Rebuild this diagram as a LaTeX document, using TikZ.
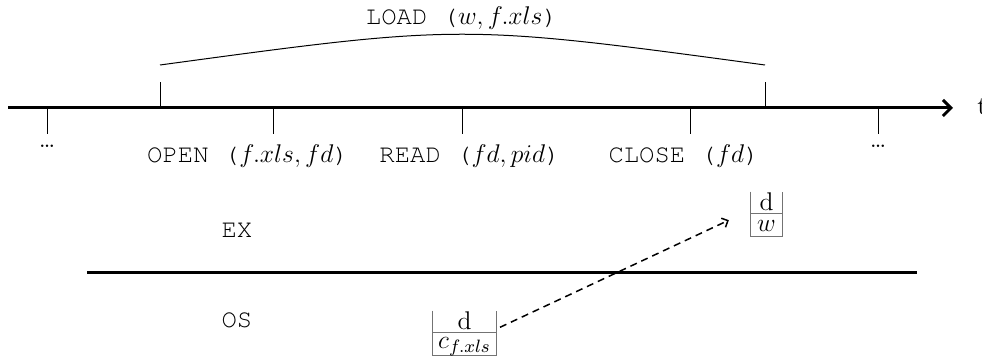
\documentclass[tikz,border=0pt]{standalone}
\usepackage{fix-cm}
\usepackage[T1,TU]{fontenc}
\usetikzlibrary{arrows.meta,calc}
% Courier for the operation names
\newcommand\cour[1]{{\fontencoding{T1}\fontfamily{pcr}\selectfont #1}}

\begin{document}
\begin{tikzpicture}[x=0.5pt,y=-0.5pt,
  every node/.style={font=\fontsize{12.8}{15}\selectfont, inner sep=0pt},
  lbl/.style={anchor=base},
  axis/.style={line width=1.5pt, -{Straight Barb[length=4pt,width=8pt]}},
  tick/.style={line width=0.5pt},
  divider/.style={line width=1.5pt},
  cellrule/.style={draw=black!55, line width=0.5pt},
  cellbox/.style={minimum height=22pt},
  flow/.style={dash pattern=on 3.5pt off 2.5pt, line width=0.75pt,
               -{Straight Barb[length=2.5pt,width=5pt]}}]
\useasboundingbox (0,0) rectangle (982,357);

% time axis
\coordinate (ax0) at (8,108);
\coordinate (ax1) at (953,108);
\draw[axis] (ax0) -- (ax1);
\node[anchor=base west] (tlabel) at (977,115) {t};

% ticks below the axis
\foreach \n/\x in {dl/47, dr/878, op/273, rd/462, cl/690}{
  \coordinate (\n-a) at (\x,108);
  \coordinate (\n-b) at (\x,134);
  \draw[tick] (\n-a) -- (\n-b);
}
% ticks above the axis marking the LOAD span
\foreach \n/\x in {ls/160, le/765}{
  \coordinate (\n-a) at (\x,108);
  \coordinate (\n-b) at (\x,82);
  \coordinate (\n-c) at (\x,65);
  \draw[tick] (\n-a) -- (\n-b);
}
\coordinate (arcctl) at (462,24);
\draw[tick] (ls-c) .. controls (arcctl) .. (le-c);

% labels
\node[lbl] (load) at (462,25) {\cour{LOAD (}$w, f.xls$\cour{)}};
\node[lbl] (open) at (248,163) {\cour{OPEN (}$f.xls, fd$\cour{)}};
\node[lbl] (read) at (470,163) {\cour{READ (}$fd, pid$\cour{)}};
\node[lbl] (close) at (684,163) {\cour{CLOSE (}$fd$\cour{)}};
\node[lbl] (dotsl) at (47,148) {\ldots};
\node[lbl] (dotsr) at (878,148) {\ldots};

% EX / OS layers
\node[lbl] (ex) at (237,238) {\cour{EX}};
\node[lbl] (os) at (237,328) {\cour{OS}};
\coordinate (dv0) at (87,273);
\coordinate (dv1) at (917,273);
\draw[divider] (dv0) -- (dv1);

% data cell in EX
\node[cellbox, minimum width=15.5pt] (box1) at (766.5,214) {};
\draw[cellrule] (box1.north west) -- (box1.south west) -- (box1.south east) -- (box1.north east);
\draw[cellrule] (box1.west) -- (box1.east);
\node[lbl] (box1-top) at (766.5,211) {d};
\node[lbl] (box1-bot) at (766.5,232) {$w$};

% data cell in OS
\node[cellbox, minimum width=31.5pt] (box2) at (464.5,333) {};
\draw[cellrule] (box2.north west) -- (box2.south west) -- (box2.south east) -- (box2.north east);
\draw[cellrule] (box2.west) -- (box2.east);
\node[lbl] (box2-top) at (464.5,330) {d};
\node[lbl] (box2-bot) at (464.5,349) {$c_{f.xls}$};

% copy from OS to EX
\draw[flow, shorten <=2pt, shorten >=12pt] ($(box2.east)+(0,-4)$) -- ($(box1.west)+(0,-4)$);
\end{tikzpicture}
\end{document}
